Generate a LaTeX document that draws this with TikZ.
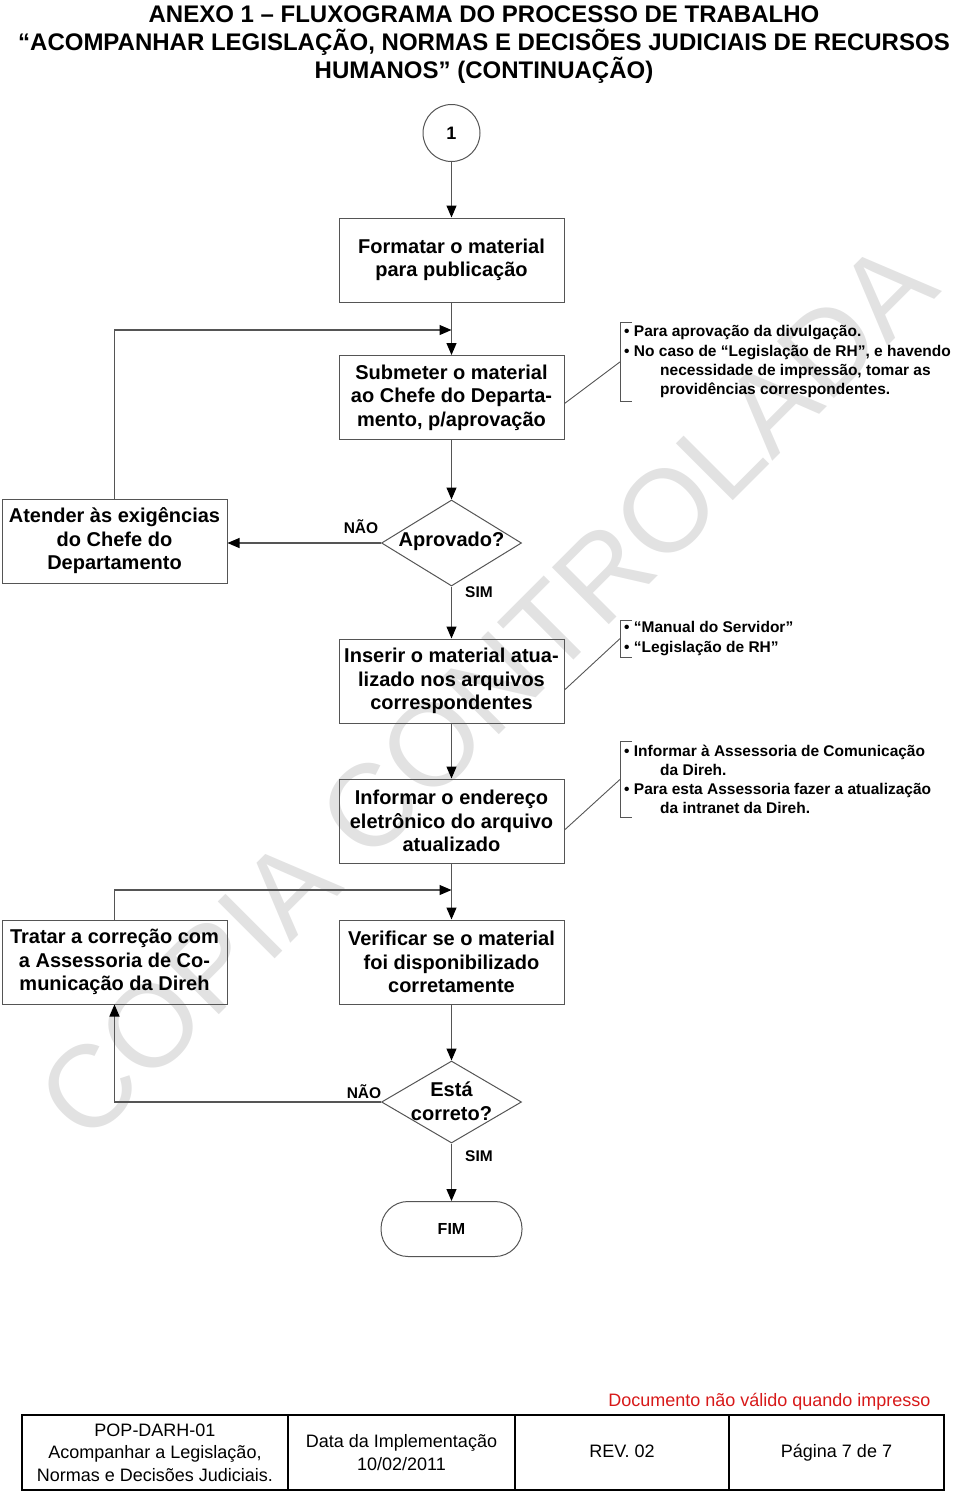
\documentclass[tikz,border=0pt]{standalone}
\usepackage{fontspec}
\setmainfont{Liberation Sans}
\usetikzlibrary{arrows.meta,shapes.geometric,calc}
\definecolor{linegray}{RGB}{85,85,85}
\definecolor{docred}{RGB}{215,25,25}
\definecolor{wmgray}{RGB}{226,226,226}
\begin{document}
\begin{tikzpicture}[x=1pt,y=-1pt,
  proc/.style={draw=linegray, line width=1pt, minimum width=225pt, minimum height=84pt, inner sep=2pt, align=center, font=\bfseries\fontsize{20}{23.5}\selectfont},
  dec/.style={draw=linegray, line width=1pt, diamond, minimum width=140pt, minimum height=86pt, inner sep=0pt},
  dectext/.style={align=center, font=\bfseries\fontsize{20}{24}\selectfont},
  arr/.style={draw=linegray, line width=1.1pt, -{Triangle[length=12pt,width=10pt,color=black]}},
  note/.style={anchor=north west, align=left, inner xsep=4pt, inner ysep=3.5pt, font=\bfseries\fontsize{15.5}{19.3}\selectfont},
  brk/.style={draw=linegray, line width=0.9pt},
  lbl/.style={font=\bfseries\fontsize{15.5}{18}\selectfont},
  cell/.style={draw=black, line width=2.6pt, minimum height=75pt, align=center, inner sep=0pt, font=\fontsize{18}{22.5}\selectfont}]
\useasboundingbox (0,0) rectangle (960,1492);

% watermark
\node[rotate=45, text=wmgray, font=\fontsize{117}{117}\selectfont] (wm) at (487,690) {COPIA CONTROLADA};

% title
\node[anchor=north, align=center, font=\bfseries\fontsize{24}{28}\selectfont] (title) at (484,2.5)
  {ANEXO 1 – FLUXOGRAMA DO PROCESSO DE TRABALHO\\“ACOMPANHAR LEGISLAÇÃO, NORMAS E DECISÕES JUDICIAIS DE RECURSOS\\HUMANOS” (CONTINUAÇÃO)};

% nodes
\node[circle, draw=linegray, line width=1pt, minimum size=57pt, inner sep=0pt, font=\bfseries\fontsize{18}{20}\selectfont] (c1) at (451.5,133) {1};
\node[proc] (p1) at (451.5,260) {Formatar o material\\para publicação};
\node[proc] (p2) at (451.5,397.5) {Submeter o material\\ao Chefe do Departa-\\mento, p/aprovação};
\node[proc] (p3) at (114.5,541) {Atender às exigências\\do Chefe do\\Departamento};
\node[dec] (d1) at (451.5,543) {};
\node[dectext] (d1t) at (451.5,541) {Aprovado?};
\node[proc] (p4) at (451.5,681) {Inserir o material atua-\\lizado nos arquivos\\correspondentes};
\node[proc] (p5) at (451.5,821) {Informar o endereço\\eletrônico do arquivo\\atualizado};
\node[proc] (p6) at (114.5,962) {Tratar a correção com\\a Assessoria de Co-\\municação da Direh};
\node[proc] (p7) at (451.5,962) {Verificar se o material\\foi disponibilizado\\corretamente};
\node[dec, minimum height=82pt] (d2) at (451.5,1102) {};
\node[dectext] (d2t) at (451.5,1101) {Está\\correto?};
\node[draw=linegray, line width=1pt, rounded corners=27pt, minimum width=141pt, minimum height=55pt, font=\bfseries\fontsize{16}{18}\selectfont] (fim) at (451.5,1229) {FIM};

% connectors
\coordinate (j1) at (451.5,330);
\coordinate (j2) at (451.5,890);
\draw[arr] (c1.south) -- (p1.north);
\draw[arr] (p1.south) -- (p2.north);
\draw[arr] (p3.north) |- (j1);
\draw[arr] (p2.south) -- (d1.north);
\draw[arr] (d1.west) -- (d1.west -| p3.east);
\draw[arr] (d1.south) -- (p4.north);
\draw[arr] (p4.south) -- (p5.north);
\draw[arr] (p5.south) -- (p7.north);
\draw[arr] (p6.north) |- (j2);
\draw[arr] (p7.south) -- (d2.north);
\draw[arr] (d2.west) -| (p6.south);
\draw[arr] (d2.south) -- (fim.north);

% labels
\node[lbl] (l1) at (361,527) {NÃO};
\node[lbl] (l2) at (479,592) {SIM};
\node[lbl] (l3) at (364,1092) {NÃO};
\node[lbl] (l4) at (479,1156) {SIM};

% notes
\node[note] (n1) at (620,322) {\textbullet\ Para aprovação da divulgação.\\\textbullet\ No caso de “Legislação de RH”, e havendo\\\hspace*{36pt}necessidade de impressão, tomar as\\\hspace*{36pt}providências correspondentes.};
\node[note, inner ysep=1.5pt] (n2) at (620,620) {\textbullet\ “Manual do Servidor”\\\textbullet\ “Legislação de RH”};
\node[note] (n3) at (620,741) {\textbullet\ Informar à Assessoria de Comunicação\\\hspace*{36pt}da Direh.\\\textbullet\ Para esta Assessoria fazer a atualização\\\hspace*{36pt}da intranet da Direh.};
\foreach \n in {n1,n2,n3}{
  \draw[brk] ($(\n.north west)+(12,0)$) -- (\n.north west) -- (\n.south west) -- ($(\n.south west)+(12,0)$);
}
\draw[brk] ($(p2.east)+(0,6)$) -- (n1.west);
\draw[brk] ($(p4.east)+(0,9)$) -- (n2.west);
\draw[brk] ($(p5.east)+(0,9)$) -- (n3.west);

% footer
\node[anchor=east, text=docred, font=\fontsize{18}{20}\selectfont] (red) at (934,1402) {Documento não válido quando impresso};
\node[cell, minimum width=266pt] (t1) at (155,1452.5) {POP-DARH-01\\Acompanhar a Legislação,\\Normas e Decisões Judiciais.};
\node[cell, minimum width=227pt] (t2) at (401.5,1452.5) {Data da Implementação\\10/02/2011};
\node[cell, minimum width=214pt, text height=13pt, text depth=4pt] (t3) at (622,1452.5) {REV. 02};
\node[cell, minimum width=215pt, text height=13pt, text depth=4pt] (t4) at (836.5,1452.5) {Página 7 de 7};
\end{tikzpicture}
\end{document}
